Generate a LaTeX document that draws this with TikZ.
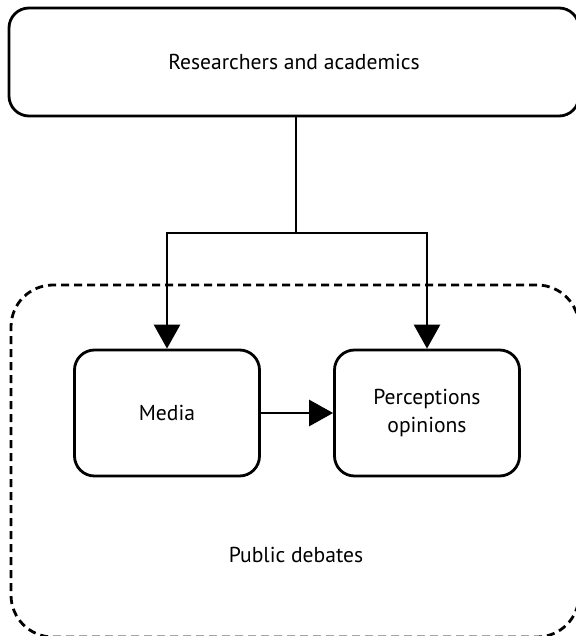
\documentclass[tikz,border=0pt]{standalone}
\usepackage{fontspec}
\setmainfont{PT Sans}
\usetikzlibrary{arrows.meta}
\begin{document}
\begin{tikzpicture}[x=1pt,y=-1pt,
  box/.style={draw,line width=2.8pt,rounded corners=20pt,align=center,font=\fontsize{21.6}{28}\selectfont,inner sep=0pt},
  dbox/.style={draw,line width=2.8pt,dash pattern=on 8pt off 5pt,rounded corners=42pt,inner sep=0pt},
  conn/.style={line width=2.8pt},
  arr/.style={line width=2.8pt,-{Triangle[width=26pt,length=24pt]}},
  lbl/.style={font=\fontsize{21.6}{28}\selectfont,inner sep=0pt}]
\useasboundingbox (0,0) rectangle (575,636);
\node[dbox,minimum width=568pt,minimum height=352pt] (pub) at (295,461) {};
\node[lbl] (publbl) at (296,555) {Public debates};
\node[box,minimum width=570pt,minimum height=108pt] (top) at (294,62) {Researchers and academics};
\node[box,minimum width=185pt,minimum height=126pt] (media) at (167,413) {Media};
\node[box,minimum width=185pt,minimum height=126pt] (perc) at (427,413) {Perceptions\\opinions};
\coordinate (j) at (296,233);
\draw[conn] (top.south -| j) -- (j);
\draw[arr] (j) -| (media.north);
\draw[arr] (j) -| (perc.north);
\draw[arr] (media.east) -- (perc.west);
\end{tikzpicture}
\end{document}
